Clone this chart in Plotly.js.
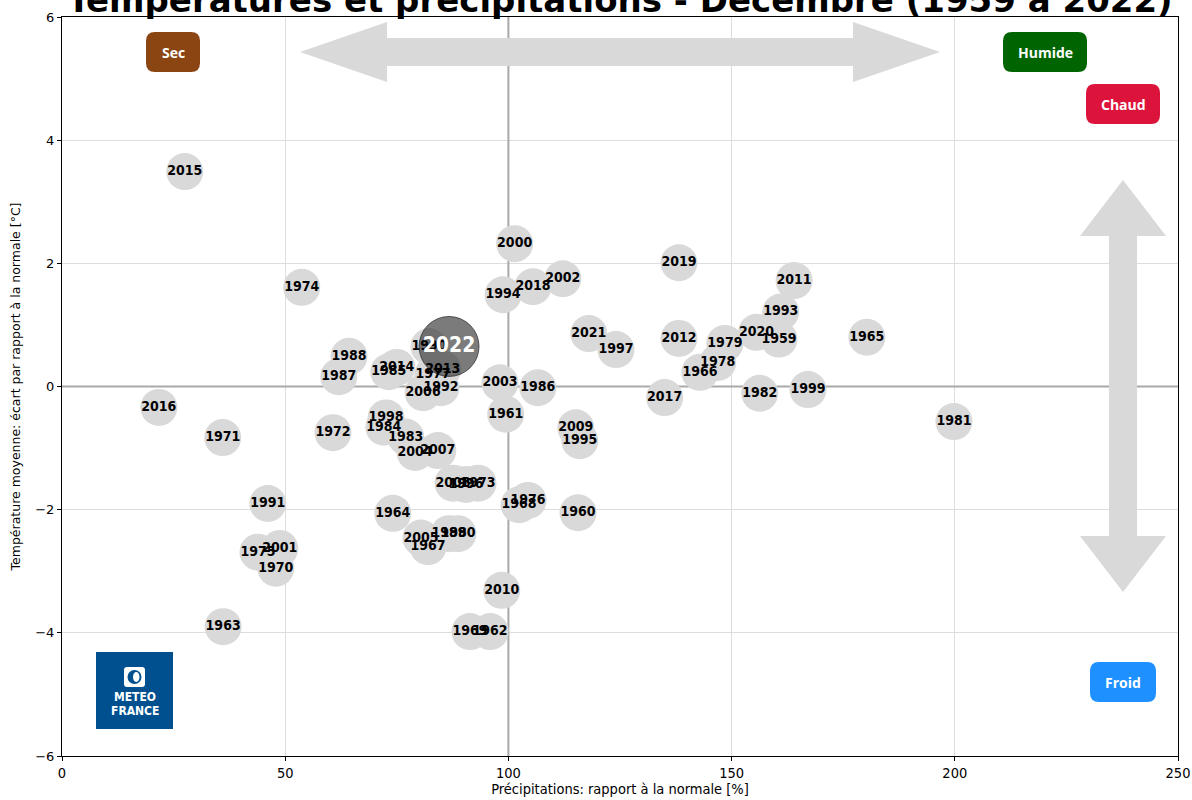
<!DOCTYPE html>
<html>
<head>
<meta charset="utf-8">
<script src="https://cdn.plot.ly/plotly-3.0.1.min.js"></script>
<style>html,body{margin:0;padding:0;background:#fff;}#chart{width:1192px;height:800px;}</style>
</head>
<body>
<div id="chart"></div>
<script>
// ---- Data ----
const years = [1959,1960,1961,1962,1963,1964,1965,1966,1967,1968,1969,1970,1971,1972,1973,1974,1975,1976,1977,1978,1979,1980,1981,1982,1983,1984,1985,1986,1987,1988,1989,1990,1991,1992,1993,1994,1995,1996,1997,1998,1999,2000,2001,2002,2003,2004,2005,2006,2007,2008,2009,2010,2011,2012,2013,2014,2015,2016,2017,2018,2019,2020,2021,2022];
const precip = [160.6,115.6,99.4,95.9,36.1,74.1,180.3,142.9,82.0,102.4,91.4,47.9,36.0,60.7,93.2,53.7,43.9,104.4,83.1,146.9,148.5,88.7,199.8,156.3,77.0,72.1,73.2,106.6,62.0,64.3,86.7,82.2,46.1,84.9,161.0,98.8,116.0,90.5,124.1,72.6,167.1,101.4,48.8,112.2,98.1,79.1,80.4,80.9,84.2,87.6,115.1,98.5,164.0,138.2,85.3,75.0,27.5,21.7,135.0,105.5,138.2,155.6,118.0,86.7];
const temp = [0.77,-2.05,-0.45,-3.98,-3.90,-2.06,0.80,0.23,-2.60,-1.92,-3.98,-2.95,-0.83,-0.75,-1.57,1.61,-2.69,-1.85,0.19,0.39,0.70,-2.39,-0.57,-0.11,-0.82,-0.66,0.24,-0.02,0.16,0.49,-2.39,0.65,-1.90,-0.02,1.21,1.49,-0.88,-1.59,0.60,-0.51,-0.05,2.32,-2.63,1.75,0.06,-1.07,-2.46,-0.10,-1.04,-1.57,-0.67,-3.31,1.72,0.78,0.28,0.31,3.49,-0.34,-0.18,1.62,2.01,0.88,0.86,0.65];
const highlightYear = 2022;
const xTicks = [0,50,100,150,200,250];
const yTicks = [-6,-4,-2,0,2,4,6];
const titleText = "Températures et précipitations - Décembre (1959 à 2022)";
const xTitle = "Précipitations: rapport à la normale [%]";
const yTitle = "Température moyenne: écart par rapport à la normale [°C]";

// ---- split series ----
const oX=[],oY=[],oT=[],hX=[],hY=[],hT=[];
years.forEach((yr,i)=>{
  if(yr===highlightYear){hX.push(precip[i]);hY.push(temp[i]);hT.push(String(yr));}
  else{oX.push(precip[i]);oY.push(temp[i]);oT.push(String(yr));}
});

const COND = "DejaVu Sans Condensed, DejaVu Sans, sans-serif";
const SANS = "DejaVu Sans, sans-serif";

const traces = [
  {type:'scatter',mode:'markers',x:oX,y:oY,hoverinfo:'skip',
   marker:{size:37,color:'#d9d9d9',line:{width:0}},showlegend:false},
  {type:'scatter',mode:'markers',x:hX,y:hY,hoverinfo:'skip',
   marker:{size:60,color:'rgba(55,55,55,0.66)',line:{width:1,color:'rgba(40,40,40,0.7)'}},showlegend:false},
  {type:'scatter',mode:'text',x:oX,y:oY,text:oT,textposition:'middle center',hoverinfo:'skip',
   textfont:{family:COND,size:14,color:'#000',weight:'bold'},showlegend:false},
  {type:'scatter',mode:'text',x:hX,y:hY,text:hT,textposition:'middle center',hoverinfo:'skip',
   textfont:{family:COND,size:21,color:'#fff',weight:'bold'},showlegend:false}
];

// ---- decoration helpers (pixel geometry -> axis units) ----
const L=62,R=1178,T=17,B=756;
const px2x = p => (p-L)*250/(R-L);
const py2y = p => 6-(p-T)*12/(B-T);
function polyPx(pts){return 'M'+pts.map(([a,b])=>px2x(a).toFixed(3)+','+py2y(b).toFixed(3)).join(' L')+' Z';}
function rrectPx(x0,y0,x1,y1,r){
  const P=(a,b)=>px2x(a).toFixed(3)+','+py2y(b).toFixed(3);
  return 'M'+P(x0+r,y0)+' L'+P(x1-r,y0)+' Q'+P(x1,y0)+' '+P(x1,y0+r)+
         ' L'+P(x1,y1-r)+' Q'+P(x1,y1)+' '+P(x1-r,y1)+
         ' L'+P(x0+r,y1)+' Q'+P(x0,y1)+' '+P(x0,y1-r)+
         ' L'+P(x0,y0+r)+' Q'+P(x0,y0)+' '+P(x0+r,y0)+' Z';
}
const shapes = [
  {type:'line',xref:'x',yref:'y',x0:100,x1:100,y0:-6,y1:6,line:{color:'#a9a9a9',width:2},layer:'between'},
  {type:'line',xref:'x',yref:'y',x0:0,x1:250,y0:0,y1:0,line:{color:'#a9a9a9',width:2},layer:'between'},
  {type:'path',xref:'x',yref:'y',layer:'between',fillcolor:'#d9d9d9',line:{width:0},
   path:polyPx([[300,52],[387,22],[387,38],[853,38],[853,22],[940,52],[853,82],[853,66],[387,66],[387,82]])},
  {type:'path',xref:'x',yref:'y',layer:'between',fillcolor:'#d9d9d9',line:{width:0},
   path:polyPx([[1123,180],[1166,236],[1137,236],[1137,536],[1166,536],[1123,592],[1080,536],[1109,536],[1109,236],[1080,236]])},
  {type:'path',xref:'x',yref:'y',layer:'above',fillcolor:'#8b4513',line:{width:0},path:rrectPx(146,32,200,72,9)},
  {type:'path',xref:'x',yref:'y',layer:'above',fillcolor:'#006400',line:{width:0},path:rrectPx(1003,32,1087,72,9)},
  {type:'path',xref:'x',yref:'y',layer:'above',fillcolor:'#dc143c',line:{width:0},path:rrectPx(1086,84,1160,124,9)},
  {type:'path',xref:'x',yref:'y',layer:'above',fillcolor:'#1e90ff',line:{width:0},path:rrectPx(1090,662,1156,702,9)},
  {type:'rect',xref:'x',yref:'y',layer:'above',x0:px2x(96),x1:px2x(173),y0:py2y(729),y1:py2y(652),fillcolor:'#00508f',line:{width:0}},
  {type:'path',xref:'x',yref:'y',layer:'above',fillcolor:'#ffffff',line:{width:0},path:rrectPx(124,667,145,687,3)},
  {type:'circle',xref:'x',yref:'y',layer:'above',x0:px2x(127.5),x1:px2x(141.5),y0:py2y(684),y1:py2y(670),fillcolor:'#00508f',line:{width:0}},
  {type:'circle',xref:'x',yref:'y',layer:'above',x0:px2x(133),x1:px2x(139.5),y0:py2y(682),y1:py2y(672),fillcolor:'#ffffff',line:{width:0}}
];
const boxFont = c => ({family:"Open Sans, DejaVu Sans, sans-serif",size:14,color:c,weight:'bold'});
const annotations = [
  {x:px2x(173),y:py2y(52),text:'Sec',showarrow:false,font:boxFont('#fff')},
  {x:px2x(1045),y:py2y(52),text:'Humide',showarrow:false,font:boxFont('#fff')},
  {x:px2x(1123),y:py2y(104),text:'Chaud',showarrow:false,font:boxFont('#fff')},
  {x:px2x(1123),y:py2y(682),text:'Froid',showarrow:false,font:boxFont('#fff')},
  {x:px2x(134.5),y:py2y(697),text:'METEO',showarrow:false,font:{family:COND,size:12,color:'#fff',weight:'bold'}},
  {x:px2x(134.5),y:py2y(711),text:'FRANCE',showarrow:false,font:{family:COND,size:12,color:'#fff',weight:'bold'}}
];

const axisCommon = {
  showgrid:true,gridcolor:'#dddddd',gridwidth:1,zeroline:false,
  showline:true,linecolor:'#000',linewidth:1,mirror:true,
  ticks:'outside',ticklen:4,tickcolor:'#000',tickwidth:1,
  fixedrange:true
};
const layout = {
  width:1192,height:800,
  margin:{l:L,r:1192-R,t:T,b:800-B,pad:0},
  paper_bgcolor:'#fff',plot_bgcolor:'#fff',
  title:{text:'<b>'+titleText+'</b>',font:{family:SANS,size:34,color:'#000'},
         xref:'paper',x:0.5,xanchor:'center',yref:'container',y:1.0,yanchor:'middle'},
  xaxis:Object.assign({},axisCommon,{range:[0,250],tickvals:xTicks,ticktext:xTicks.map(String),
    tickfont:{family:COND,size:14.5,color:'#000'},
    title:{text:xTitle,font:{family:COND,size:14.5,color:'#000'},standoff:2}}),
  yaxis:Object.assign({},axisCommon,{range:[-6,6],tickvals:yTicks,ticktext:yTicks.map(v=>v<0?'\u2212'+Math.abs(v):String(v)),
    tickfont:{family:SANS,size:13,color:'#000'},
    title:{text:yTitle,font:{family:SANS,size:12.5,color:'#000'},standoff:11}}),
  shapes:shapes,annotations:annotations,showlegend:false
};
Plotly.newPlot('chart',traces,layout,{displayModeBar:false,staticPlot:true});
</script>
</body>
</html>
